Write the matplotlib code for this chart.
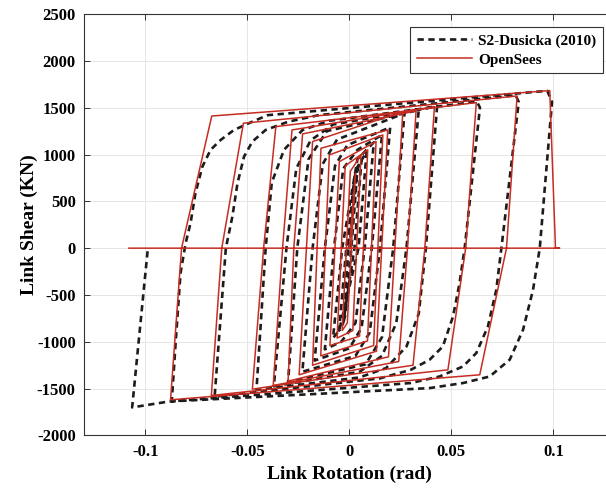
import matplotlib
matplotlib.use("Agg")
import matplotlib.pyplot as plt

# --- test data: S2-Dusicka (2010) ---
test_rot = [
    0.0, 0.0040,
    0.0010, -0.0018, -0.0030, -0.0005, 0.0025, 0.0060,
    0.0025, -0.0030, -0.0050, -0.0015, 0.0035, 0.0085,
    0.0045, -0.0050, -0.0080, -0.0035, 0.0040, 0.0120,
    0.0075, 0.0030, -0.0040, -0.0120, -0.0075, -0.0030, 0.0040, 0.0160,
    0.0110, 0.0060, 0.0000, -0.0170, -0.0120, -0.0070, -0.0010, 0.0200,
    0.0150, 0.0100, 0.0030, -0.0230, -0.0180, -0.0130, -0.0060, 0.0270,
    0.0215, 0.0160, 0.0080, -0.0300, -0.0255, -0.0200, -0.0110, 0.0340,
    0.0280, 0.0230, 0.0160, 0.0050, -0.0370, -0.0308, -0.0260, -0.0190, -0.0080, 0.0430,
    0.0375, 0.0340, 0.0280, 0.0180, 0.0050, -0.0455,
    -0.0410, -0.0380, -0.0320, -0.0230, -0.0100, 0.0625, 0.0640,
    0.0565, 0.0540, 0.0508, 0.0458, 0.0393, 0.0300, 0.0150, -0.0660,
    -0.0605, -0.0573, -0.0548, -0.0516, -0.0475, -0.0410, -0.0300, -0.0150, 0.0815, 0.0830,
    0.0745, 0.0720, 0.0679, 0.0622, 0.0557, 0.0442, 0.0300, -0.0870,
    -0.0850, -0.0827, -0.0802, -0.0778, -0.0754, -0.0720, -0.0680, -0.0630, -0.0565,
    -0.0475, -0.0400, 0.0970, 0.0993,
    0.0933, 0.0900, 0.0851, 0.0786, 0.0688, 0.0557, 0.0393, -0.0884, -0.1064, -0.0987,
]
test_shear = [
    0, 850,
    0, -700, -800, 0, 760, 950,
    0, -800, -880, 0, 850, 1030,
    0, -880, -960, 0, 950, 1130,
    0, -800, -1000, -1080, 0, 850, 1050, 1210,
    0, -850, -1070, -1200, 0, 880, 1100, 1290,
    0, -900, -1150, -1320, 0, 900, 1160, 1440,
    0, -950, -1240, -1430, 0, 950, 1250, 1475,
    0, -800, -1150, -1320, -1475, 0, 850, 1150, 1320, 1515,
    0, -700, -1050, -1280, -1380, -1515,
    0, 700, 1050, 1260, 1360, 1565, 1500,
    0, -373, -730, -1050, -1192, -1300, -1390, -1585,
    0, 337, 693, 977, 1138, 1262, 1350, 1420, 1632, 1560,
    0, -445, -836, -1120, -1263, -1370, -1440, -1635,
    -978, -267, 53, 267, 587, 870, 1049, 1156, 1262,
    1351, 1420, 1680, 1560,
    0, -445, -872, -1190, -1370, -1440, -1494, -1637, -1700, 0,
]

# --- OpenSees model: peak, zero crossing and corner points of each cycle ---
model_rot = [
    0.0, 0.0030, -0.0010, -0.0035, 0.0005,
    0.0057, 0.0017, -0.0060, -0.0020,
    0.0090, 0.0050, -0.0095, -0.0049,
    0.0131, 0.0089, -0.0140, -0.0098,
    0.0164, 0.0119, -0.0180, -0.0139,
    0.0188, 0.0133, -0.0246, -0.0180,
    0.0262, 0.0192, -0.0300, -0.0272, -0.0229,
    0.0327, 0.0285, 0.0242, -0.0373, -0.0327, -0.0281,
    0.0417, 0.0370, 0.0312, -0.0475, -0.0420, -0.0360,
    0.0622, 0.0570, 0.0483, -0.0676, -0.0625, -0.0519,
    0.0822, 0.0770, 0.0639, -0.0876, -0.0822, -0.0674,
    0.0982, 0.1010, 0.1030, -0.1080,
]
model_shear = [
    0, 800, -800, -880, 820,
    995, -880, -960, 880,
    1049, -940, -1040, 924,
    1138, -990, -1150, 995,
    1209, -1040, -1250, 1067,
    1262, -1100, -1352, 1138,
    1457, -1160, -1420, 0, 1220,
    1465, 0, -1210, -1466, 0, 1262,
    1511, 0, -1250, -1505, 0, 1298,
    1554, 0, -1299, -1573, 0, 1334,
    1625, 0, -1352, -1619, 0, 1411,
    1682, 0, 0, 0,
]

xticks = [-0.1, -0.05, 0, 0.05, 0.1]
xtick_labels = ["-0.1", "-0.05", "0", "0.05", "0.1"]
yticks = [-2000, -1500, -1000, -500, 0, 500, 1000, 1500, 2000, 2500]

plt.rcParams["font.family"] = ["Liberation Serif", "DejaVu Serif"]
plt.rcParams["font.weight"] = "bold"
plt.rcParams["axes.unicode_minus"] = False

fig = plt.figure(figsize=(6.06, 4.88), dpi=100)
# the right edge of the axes runs past the picture, as in the source image
ax = fig.add_axes([0.1386, 0.1076, 0.8757, 0.8637])

ax.plot(test_rot, test_shear, color="#1c1c1c", lw=1.9, dashes=(2.4, 1.7),
        label="S2-Dusicka (2010)", zorder=3)
ax.plot(model_rot, model_shear, color="#c62d22", lw=1.1,
        label="OpenSees", zorder=4)

ax.set_xlim(-0.13, 0.13)
ax.set_ylim(-2000, 2500)
ax.set_xticks(xticks)
ax.set_xticklabels(xtick_labels)
ax.set_yticks(yticks)
ax.grid(True, color="#e2e2e2", lw=0.6, zorder=0)
ax.set_axisbelow(True)
ax.tick_params(direction="in", top=True, length=4, width=0.7,
               labelsize=12, color="#333333", pad=6)
for s in ax.spines.values():
    s.set_color("#333333")
    s.set_linewidth(0.8)

ax.set_xlabel("Link Rotation (rad)", fontsize=14, fontweight="bold", labelpad=4)
ax.set_ylabel("Link Shear (KN)", fontsize=14, fontweight="bold", labelpad=-1)

leg = ax.legend(loc="upper right", bbox_to_anchor=(0.995, 0.945),
                bbox_transform=fig.transFigure, fancybox=False,
                framealpha=1, edgecolor="#333333", fontsize=11,
                handlelength=3.6, borderpad=0.45, labelspacing=0.35,
                handletextpad=0.4, borderaxespad=0)
leg.get_frame().set_linewidth(0.8)

fig.savefig("out.png", dpi=100)
